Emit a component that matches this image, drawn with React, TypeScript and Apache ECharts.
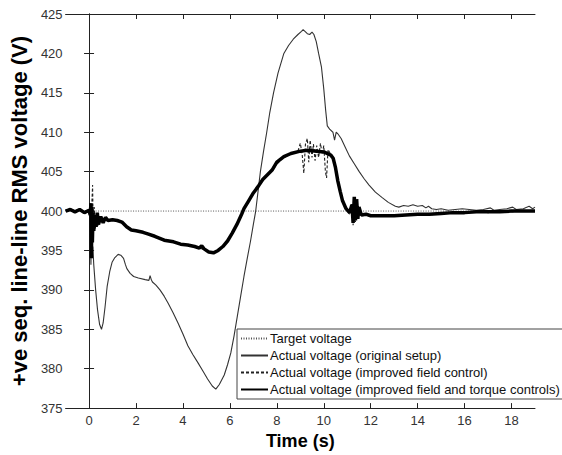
import React, { useEffect, useRef } from "react";
import * as echarts from "echarts";

const xTicks = [0, 2, 4, 6, 8, 10, 12, 14, 16, 18];
const seriesNames = [
  "Target voltage",
  "Actual voltage (original setup)",
  "Actual voltage (improved field control)",
  "Actual voltage (improved field and torque controls)",
];

const targetVoltage: [number, number][] = [
  [-1, 400],
  [19, 400],
];

const originalSetup: [number, number][] = [
  [-1, 400.1], [-0.8, 400.3], [-0.6, 400.0], [-0.4, 400.2], [-0.2, 399.9], [0, 400.1],
  [0.05, 399.6], [0.08, 393.2], [0.1, 397.5], [0.13, 394.8], [0.16, 395.5], [0.2, 393.2],
  [0.28, 390], [0.36, 387.5], [0.45, 385.6], [0.53, 385.0], [0.6, 385.8], [0.68, 387.8],
  [0.77, 390.4], [0.88, 392.3], [0.98, 393.5], [1.1, 394.1], [1.24, 394.5], [1.35, 394.4],
  [1.47, 394.0], [1.55, 393.2], [1.61, 392.7], [1.75, 392.1], [1.9, 391.7], [2.1, 391.5],
  [2.39, 391.3], [2.55, 391.2], [2.6, 391.8], [2.65, 391.3], [2.7, 391.0], [2.85, 390.6],
  [3.02, 390.0], [3.2, 389.2], [3.37, 388.3], [3.58, 387.1], [3.79, 385.8], [4.0, 384.4],
  [4.21, 382.9], [4.42, 381.8], [4.63, 380.8], [4.85, 379.7], [5.05, 378.7], [5.25, 377.8],
  [5.4, 377.4], [5.55, 378.0], [5.76, 379.2], [5.9, 380.5], [6.04, 382.0], [6.18, 384.2],
  [6.32, 386.7], [6.46, 389.2], [6.6, 391.7], [6.74, 394.0], [6.88, 396.2], [7.0, 398.3],
  [7.1, 400.0], [7.2, 402.5], [7.3, 405.0], [7.43, 407.5], [7.57, 410.0], [7.7, 412.5],
  [7.86, 415.0], [8.05, 417.5], [8.3, 420.0], [8.5, 421.0], [8.7, 421.8], [8.9, 422.4],
  [9.05, 422.8], [9.12, 423.0], [9.2, 422.8], [9.3, 422.5], [9.4, 422.4], [9.5, 422.7],
  [9.58, 422.4], [9.68, 421.5], [9.78, 420.0], [9.9, 418.3], [10.0, 415.5], [10.08, 412.8],
  [10.15, 410.8], [10.25, 410.4], [10.39, 410.0], [10.46, 409.0], [10.53, 410.0], [10.6, 409.8],
  [10.74, 409.2], [10.9, 408.2], [11.09, 407.0], [11.3, 406.0], [11.51, 405.0], [11.72, 404.1],
  [11.93, 403.3], [12.2, 402.4], [12.49, 401.7], [12.75, 401.1], [13.05, 400.6], [13.2, 400.5],
  [13.4, 400.7], [13.6, 400.6], [13.8, 400.8], [14.0, 400.6], [14.2, 400.7], [14.35, 400.4],
  [14.46, 400.6], [14.6, 400.3], [14.8, 400.2], [15.0, 400.3], [15.3, 400.1], [15.6, 400.2],
  [15.9, 400.3], [16.2, 400.2], [16.5, 400.1], [16.8, 400.2], [17.1, 400.4], [17.25, 400.1],
  [17.5, 400.2], [17.8, 400.3], [18.05, 400.5], [18.2, 400.2], [18.5, 400.3], [18.75, 400.6],
  [18.9, 400.3], [19.0, 400.5],
];

const improvedField: [number, number][] = [
  [-1, 400.1], [-0.7, 400.0], [-0.4, 400.2], [-0.1, 399.9], [0.05, 399.5], [0.09, 396],
  [0.12, 401], [0.15, 403.3], [0.18, 397.5], [0.22, 400.5], [0.27, 397.8], [0.32, 399.5],
  [0.4, 398.2], [0.5, 399.2], [0.7, 398.8], [1.0, 398.9], [1.3, 398.7], [1.6, 398.0],
  [2.0, 397.5], [2.5, 397.1], [3.0, 396.6], [3.5, 396.2], [4.0, 395.8], [4.5, 395.5],
  [5.0, 395.0], [5.3, 394.7], [5.6, 395.2], [6.0, 396.7], [6.3, 398.3], [6.6, 400.3],
  [7.0, 402.3], [7.4, 404.0], [7.8, 405.2], [8.2, 406.6], [8.6, 407.3], [8.9, 407.6],
  [9.0, 408.6], [9.08, 407.2], [9.15, 404.8], [9.22, 408.5], [9.3, 409.2], [9.36, 406.2],
  [9.42, 409.0], [9.5, 406.8], [9.56, 408.5], [9.63, 406.4], [9.7, 408.3], [9.78, 406.8],
  [9.86, 408.6], [9.93, 407.2], [10.0, 408.3], [10.07, 405.0], [10.12, 404.2], [10.18, 407.8],
  [10.3, 407.2], [10.4, 406.8], [10.5, 405.5], [10.6, 403.8], [10.7, 402.5], [10.8, 401.3],
  [10.95, 400.3], [11.1, 399.6], [11.2, 401.0], [11.25, 398.2], [11.3, 401.6], [11.35, 398.6],
  [11.4, 401.2], [11.45, 399.0], [11.5, 400.4], [11.6, 399.4], [11.8, 399.5], [12.0, 399.3],
  [12.5, 399.4], [13.0, 399.3], [13.5, 399.5], [14.0, 399.6], [14.5, 399.5], [15.0, 399.7],
  [15.5, 399.8], [16.0, 399.7], [16.5, 399.9], [17.0, 399.8], [17.5, 400.0], [18.0, 399.9],
  [18.5, 400.1], [19.0, 400.0],
];

const improvedFieldTorque: [number, number][] = [
  [-1, 400.0], [-0.8, 400.2], [-0.6, 399.9], [-0.4, 400.2], [-0.2, 399.8], [0, 400.1],
  [0.05, 399.5], [0.08, 401], [0.1, 394], [0.12, 400.5], [0.14, 396], [0.17, 399.8],
  [0.2, 397.5], [0.25, 399.5], [0.3, 398], [0.35, 399.8], [0.4, 398.3], [0.5, 399.3],
  [0.6, 398.5], [0.7, 399.2], [0.8, 398.8], [1.0, 398.9], [1.2, 398.8], [1.4, 398.6],
  [1.6, 398.0], [1.8, 397.6], [2.0, 397.5], [2.3, 397.3], [2.5, 397.1], [2.8, 396.8],
  [3.2, 396.3], [3.6, 396.1], [3.9, 395.8], [4.2, 395.7], [4.5, 395.5], [4.7, 395.3],
  [4.8, 395.6], [4.9, 395.2], [5.1, 394.8], [5.3, 394.7], [5.5, 395.0], [5.7, 395.5],
  [5.9, 396.2], [6.1, 397.2], [6.3, 398.3], [6.5, 399.6], [6.6, 400.3], [6.8, 401.3],
  [7.0, 402.3], [7.2, 403.1], [7.4, 404.0], [7.6, 404.6], [7.8, 405.2], [8.0, 406.2],
  [8.3, 406.9], [8.6, 407.3], [9.0, 407.6], [9.3, 407.7], [9.7, 407.6], [10.0, 407.5],
  [10.3, 407.1], [10.4, 406.7], [10.5, 405.5], [10.6, 403.8], [10.7, 402.5], [10.8, 401.3],
  [10.95, 400.3], [11.1, 399.8], [11.2, 400.8], [11.25, 398.5], [11.3, 401.8], [11.35, 398.8],
  [11.4, 401.5], [11.45, 399.0], [11.5, 400.5], [11.6, 399.5], [11.8, 399.6], [12.0, 399.4],
  [12.5, 399.4], [13.0, 399.4], [13.5, 399.5], [14.0, 399.6], [14.5, 399.6], [15.0, 399.7],
  [15.5, 399.8], [16.0, 399.8], [16.5, 399.9], [17.0, 399.9], [17.5, 399.9], [18.0, 400.0],
  [18.5, 400.0], [19.0, 400.0],
];

const FONT = "'Liberation Sans', Arial, Helvetica, sans-serif";

export default function App() {
  const ref = useRef<HTMLDivElement>(null);
  useEffect(() => {
    if (!ref.current) return;
    const chart = echarts.init(ref.current, null, { renderer: "svg" });
    const axisLineStyle = { color: "#222", width: 1 };
    const tickStyle = { show: true, inside: true, length: 5, lineStyle: { color: "#222", width: 1 } };
    chart.setOption({
      animation: false,
      backgroundColor: "#fff",
      textStyle: { fontFamily: FONT },
      grid: { left: 60, right: 27, top: 14, bottom: 42, containLabel: false },
      legend: {
        data: seriesNames,
        orient: "vertical",
        left: 237,
        top: 329,
        itemWidth: 27,
        itemHeight: 13,
        itemGap: 4,
        padding: [3, 4, 3, 3],
        backgroundColor: "#fff",
        borderColor: "#444",
        borderWidth: 1,
        borderRadius: 0,
        itemStyle: { opacity: 0 },
        textStyle: { fontFamily: FONT, fontSize: 13, color: "#111", padding: [0, 0, 0, -3] },
      },
      xAxis: [
        {
          type: "value",
          min: -1,
          max: 19,
          position: "bottom",
          name: "Time (s)",
          nameLocation: "middle",
          nameGap: 18,
          nameTextStyle: { fontFamily: FONT, fontSize: 18, fontWeight: "bold", color: "#000" },
          axisLine: { show: true, lineStyle: axisLineStyle },
          axisTick: { ...tickStyle, customValues: xTicks },
          axisLabel: { customValues: xTicks, fontFamily: FONT, fontSize: 13, color: "#333", margin: 6 },
          splitLine: { show: false },
        },
        {
          type: "value",
          min: -1,
          max: 19,
          position: "top",
          axisLine: { show: true, lineStyle: axisLineStyle },
          axisTick: { ...tickStyle, customValues: xTicks },
          axisLabel: { show: false },
          splitLine: { show: false },
        },
      ],
      yAxis: [
        {
          type: "value",
          min: 375,
          max: 425,
          interval: 5,
          position: "left",
          name: "+ve seq. line-line RMS voltage (V)",
          nameLocation: "middle",
          nameGap: 31,
          nameTextStyle: { fontFamily: FONT, fontSize: 22, fontWeight: "bold", color: "#000" },
          axisLine: { show: true, lineStyle: axisLineStyle },
          axisTick: tickStyle,
          axisLabel: { fontFamily: FONT, fontSize: 13, color: "#333", margin: 3 },
          splitLine: { show: false },
        },
        {
          type: "value",
          min: 375,
          max: 425,
          interval: 5,
          position: "right",
          axisLine: { show: true, lineStyle: axisLineStyle },
          axisTick: tickStyle,
          axisLabel: { show: false },
          splitLine: { show: false },
        },
      ],
      series: [
        {
          name: seriesNames[0],
          type: "line",
          data: targetVoltage,
          symbol: "none",
          lineStyle: { color: "#555", width: 1, type: [1, 1.5] },
          itemStyle: { color: "#555" },
        },
        {
          name: seriesNames[1],
          type: "line",
          data: originalSetup,
          symbol: "none",
          lineStyle: { color: "#333", width: 1.1, type: "solid" },
          itemStyle: { color: "#333" },
        },
        {
          name: seriesNames[2],
          type: "line",
          data: improvedField,
          symbol: "none",
          lineStyle: { color: "#222", width: 1.1, type: [3, 2] },
          itemStyle: { color: "#222" },
        },
        {
          name: seriesNames[3],
          type: "line",
          data: improvedFieldTorque,
          symbol: "none",
          lineStyle: { color: "#000", width: 3.5, type: "solid" },
          itemStyle: { color: "#000" },
        },
      ],
    });
    return () => chart.dispose();
  }, []);
  return (
    <div
      ref={ref}
      style={{ position: "fixed", left: 0, top: 0, width: 562, height: 455, background: "#fff" }}
    />
  );
}
